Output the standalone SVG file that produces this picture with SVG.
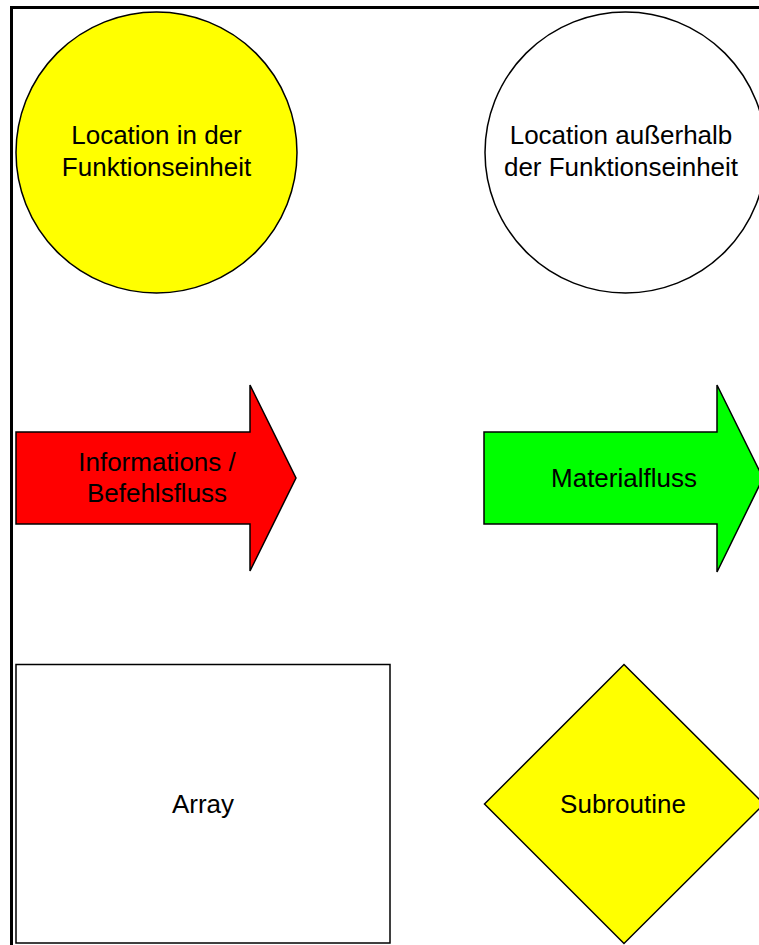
<svg xmlns="http://www.w3.org/2000/svg" width="759" height="945" viewBox="0 0 759 945">
  <style>
    .shape { stroke: #000; stroke-width: 1.5; stroke-linejoin: miter; }
    .label { font-family: "Liberation Sans", Arial, sans-serif; font-size: 26px; fill: #000; text-anchor: middle; }
    .frame { fill: none; stroke: #000; stroke-width: 3; }
  </style>
  <rect width="759" height="945" fill="#fff"/>

  <!-- page frame (top and left edges) -->
  <path class="frame" d="M11.5,945 V7.5 H759"/>

  <g id="location-inside">
    <circle class="shape" cx="156.5" cy="152.5" r="140.5" fill="#ffff00"/>
    <text class="label" x="156.5" y="144">Location in der</text>
    <text class="label" x="156.5" y="176">Funktionseinheit</text>
  </g>

  <g id="location-outside">
    <circle class="shape" cx="625.5" cy="152.5" r="140.5" fill="#ffffff"/>
    <text class="label" x="621" y="144">Location außerhalb</text>
    <text class="label" x="621" y="176">der Funktionseinheit</text>
  </g>

  <g id="information-flow">
    <polygon class="shape" fill="#ff0000" points="16,432 250,432 250,385 296,478 250,571 250,524 16,524"/>
    <text class="label" x="157" y="471">Informations /</text>
    <text class="label" x="157" y="502">Befehlsfluss</text>
  </g>

  <g id="material-flow">
    <polygon class="shape" fill="#00ff00" points="484,432 717,432 717,385 763,478 717,572 717,524 484,524"/>
    <text class="label" x="624" y="487">Materialfluss</text>
  </g>

  <g id="array">
    <rect class="shape" x="16" y="664.5" width="374" height="278.5" fill="#ffffff"/>
    <text class="label" x="203" y="813">Array</text>
  </g>

  <g id="subroutine">
    <polygon class="shape" fill="#ffff00" points="624,664.5 764,804 624,943.5 484.5,804"/>
    <text class="label" x="623" y="813">Subroutine</text>
  </g>

  <g id="connectors"></g>
</svg>
